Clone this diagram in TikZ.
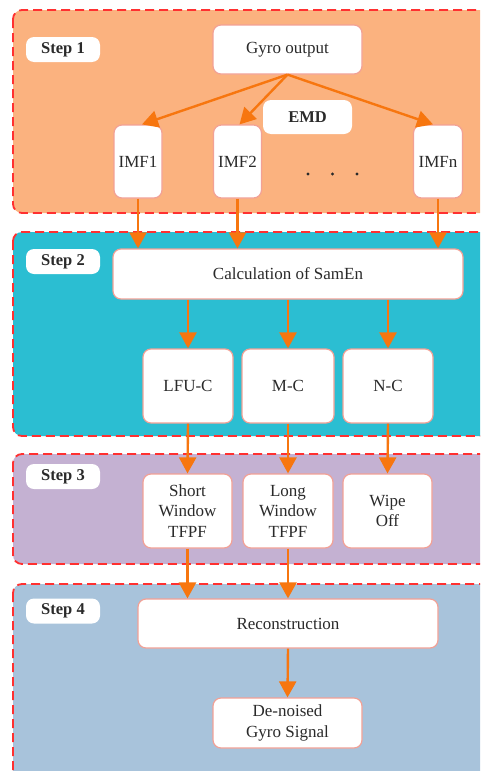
\documentclass[tikz,border=0pt]{standalone}
\usepackage{fontspec}
\setmainfont{Liberation Serif}
\usetikzlibrary{arrows.meta}
\definecolor{pOrange}{HTML}{FBB27F}
\definecolor{pTeal}{HTML}{2BBED2}
\definecolor{pLav}{HTML}{C4B1D2}
\definecolor{pBlue}{HTML}{A8C3DB}
\definecolor{dashRed}{HTML}{FF3030}
\definecolor{arrOr}{HTML}{F7760F}
\definecolor{boxEdge}{HTML}{F2A196}
\definecolor{txt}{HTML}{2A2A2A}
\begin{document}
\begin{tikzpicture}[x=1pt,y=-1pt,
 panel/.style={draw=dashRed, line width=1.8pt, dash pattern=on 9pt off 5pt, rounded corners=9pt},
 box/.style={draw=boxEdge, line width=1.2pt, fill=white, rounded corners=8pt, inner sep=0pt, align=center, text=txt, font=\fontsize{17}{20.5}\selectfont},
 steplab/.style={fill=white, rounded corners=8pt, inner sep=0pt, minimum width=74pt, minimum height=25pt, font=\bfseries\fontsize{16.5}{20}\selectfont, text=txt},
 arr/.style={draw=arrOr, line width=2.4pt, -{Triangle[length=16pt,width=17pt]}}]
\clip (0,0) rectangle (480,771);
\fill[white] (0,0) rectangle (480,771);
\draw[panel, fill=pOrange] (13,10) rectangle (500,213);
\draw[panel, fill=pTeal] (13,232) rectangle (500,436);
\draw[panel, fill=pLav] (13,454) rectangle (500,564);
\draw[panel, fill=pBlue] (13,584) rectangle (500,800);

\node[steplab] (s1) at (63,49.5) {Step 1};
\node[steplab] (s2) at (63,261.5) {Step 2};
\node[steplab] (s3) at (63,476.5) {Step 3};
\node[steplab] (s4) at (63,611) {Step 4};

\node[box, minimum width=149pt, minimum height=49pt] (gyro) at (287.5,49.5) {Gyro output};
\node[steplab, minimum width=89pt, minimum height=34pt] (emd) at (307.5,117) {EMD};
\node[box, minimum width=48pt, minimum height=73pt] (imf1) at (138,161.5) {IMF1};
\node[box, minimum width=48pt, minimum height=73pt] (imf2) at (237.5,161.5) {IMF2};
\node[box, minimum width=49pt, minimum height=73pt] (imfn) at (438,161.5) {IMFn};
\fill[txt] (308,174) circle (1.6pt) (332.5,174) circle (1.6pt) (357,174) circle (1.6pt);

\node[box, minimum width=350pt, minimum height=50pt] (calc) at (288,274) {Calculation of SamEn};
\node[box, minimum width=90pt, minimum height=74pt] (lfu) at (188,386) {LFU-C};
\node[box, minimum width=92pt, minimum height=74pt] (mc) at (288,386) {M-C};
\node[box, minimum width=90pt, minimum height=74pt] (nc) at (388,386) {N-C};

\node[box, minimum width=89pt, minimum height=74pt] (short) at (187.5,511) {Short\\Window\\TFPF};
\node[box, minimum width=90pt, minimum height=74pt] (long) at (288,511) {Long\\Window\\TFPF};
\node[box, minimum width=89pt, minimum height=74pt] (wipe) at (387.5,511) {Wipe\\Off};

\node[box, minimum width=300pt, minimum height=49pt] (rec) at (288,623.5) {Reconstruction};
\node[box, minimum width=149pt, minimum height=50pt] (den) at (287.5,723) {De-noised\\Gyro Signal};

\draw[arr] (gyro.south) -- ([xshift=4pt]imf1.north);
\draw[arr] (gyro.south) -- ([xshift=2pt]imf2.north);
\draw[arr] (gyro.south) -- ([xshift=-5pt]imfn.north);
\draw[arr] (imf1.south) -- (imf1.south |- calc.north);
\draw[arr] (imf2.south) -- (imf2.south |- calc.north);
\draw[arr] (imfn.south) -- (imfn.south |- calc.north);
\draw[arr] (calc.south -| lfu.north) -- (lfu.north);
\draw[arr] (calc.south -| mc.north) -- (mc.north);
\draw[arr] (calc.south -| nc.north) -- (nc.north);
\draw[arr] (lfu.south) -- (short.north);
\draw[arr] (mc.south) -- (long.north);
\draw[arr] (nc.south) -- (wipe.north);
\draw[arr] (short.south) -- (short.south |- rec.north);
\draw[arr] (long.south) -- (long.south |- rec.north);
\draw[arr] (rec.south) -- (den.north);
\end{tikzpicture}
\end{document}
